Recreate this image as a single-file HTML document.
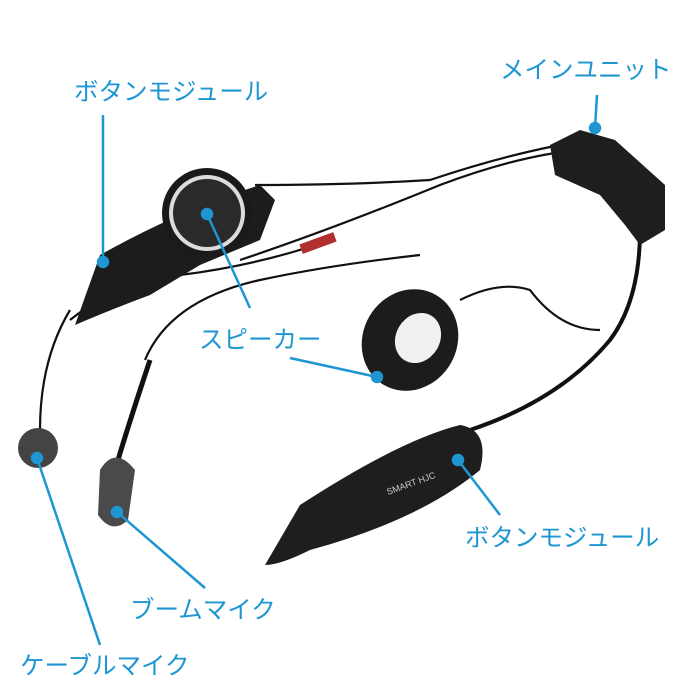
<!DOCTYPE html>
<html><head><meta charset="utf-8"><style>
html,body{margin:0;padding:0;background:#fff;width:700px;height:700px;overflow:hidden}
svg{display:block}
text{font-family:"Liberation Sans","Noto Sans CJK JP",sans-serif;font-size:24.5px;fill:#1e96d2}
</style></head><body>
<svg width="700" height="700" viewBox="0 0 700 700">
<g fill="none" stroke="#111" stroke-width="2.2">
<path d="M255 185 Q350 185 430 180 Q520 150 590 140"/>
<path d="M240 260 Q330 230 440 185 Q520 155 580 150"/>
<path d="M70 320 Q120 280 180 275 Q260 265 330 240"/>
<path d="M70 310 Q40 360 40 430"/>
<path d="M145 360 Q170 300 260 280 Q330 265 420 255"/>
<path d="M460 300 Q500 280 530 290 Q560 330 600 330"/>
<path d="M640 230 Q640 300 610 340 Q560 400 470 430" stroke-width="4"/>
<path d="M150 360 Q130 420 118 460" stroke-width="5"/>
</g>
<rect x="300" y="238" width="36" height="10" fill="#b03030" transform="rotate(-20 318 243)"/>
<rect x="122" y="258" width="20" height="14" fill="#b03030" transform="rotate(-20 132 265)"/>
<path d="M75 325 L100 255 Q180 210 260 185 L275 200 L260 240 L200 265 L150 295 Q110 310 75 325Z" fill="#1c1c1c"/>
<circle cx="207" cy="213" r="45" fill="#1a1a1a"/>
<circle cx="207" cy="213" r="38" fill="#dcdcdc"/>
<circle cx="207" cy="213" r="34" fill="#2a2a2a"/>
<path d="M550 145 L580 130 L615 140 L665 185 L665 230 L640 245 L625 225 L600 195 L555 175Z" fill="#1e1e1e"/>
<ellipse cx="410" cy="340" rx="47" ry="52" transform="rotate(30 410 340)" fill="#1c1c1c"/>
<ellipse cx="418" cy="338" rx="22" ry="26" transform="rotate(30 418 338)" fill="#f0f0f0"/>
<circle cx="38" cy="448" r="20" fill="#444"/>
<path d="M100 470 Q115 445 135 470 L128 520 Q112 535 98 515Z" fill="#4a4a4a"/>
<path d="M265 565 L300 505 Q400 440 460 425 Q490 430 480 470 Q420 520 310 550 Q280 565 265 565Z" fill="#1e1e1e"/>
<text x="388" y="495" style="font-size:9px;fill:#ccc" transform="rotate(-20 388 495)">SMART HJC</text>
<g stroke="#1e96d2" stroke-width="2.5" fill="#1e96d2">
<line x1="103" y1="115" x2="103" y2="262"/><circle cx="103" cy="262" r="5"/>
<line x1="597" y1="95" x2="595" y2="128"/><circle cx="595" cy="128" r="5"/>
<line x1="207" y1="214" x2="250" y2="308"/><circle cx="207" cy="214" r="5"/>
<line x1="290" y1="358" x2="377" y2="377"/><circle cx="377" cy="377" r="5"/>
<line x1="458" y1="460" x2="500" y2="515"/><circle cx="458" cy="460" r="5"/>
<line x1="117" y1="512" x2="205" y2="588"/><circle cx="117" cy="512" r="5"/>
<line x1="37" y1="458" x2="100" y2="645"/><circle cx="37" cy="458" r="5"/>
</g>
<text x="74" y="100">ボタンモジュール</text>
<text x="500" y="78">メインユニット</text>
<text x="199" y="348">スピーカー</text>
<text x="465" y="546">ボタンモジュール</text>
<text x="130" y="618">ブームマイク</text>
<text x="20" y="674">ケーブルマイク</text>
</svg>
</body></html>
